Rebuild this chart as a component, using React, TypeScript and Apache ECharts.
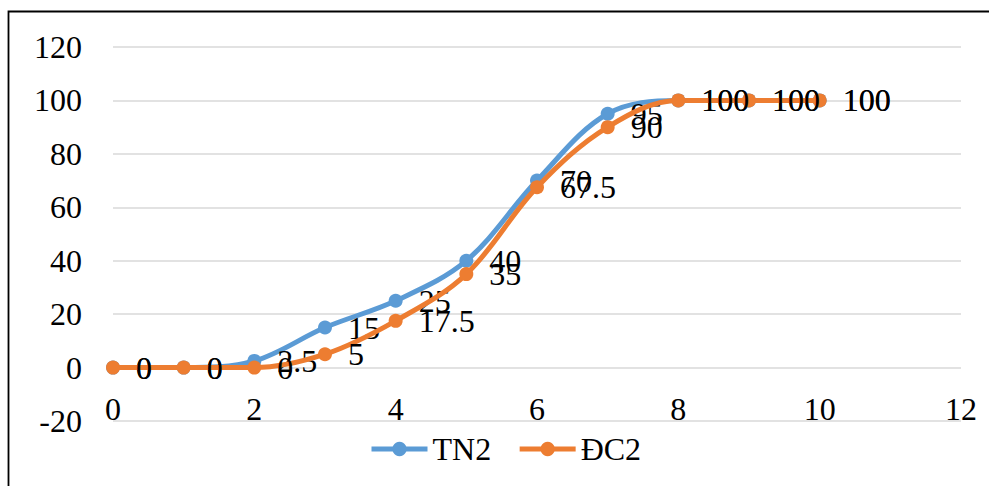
import React, { useEffect, useRef } from "react";
import * as echarts from "echarts";

// Day index on the horizontal axis
const days = [0, 1, 2, 3, 4, 5, 6, 7, 8, 9, 10];
// Cumulative percentage for each treatment
const tn2Values = [0, 0, 2.5, 15, 25, 40, 70, 95, 100, 100, 100];
const dc2Values = [0, 0, 0, 5, 17.5, 35, 67.5, 90, 100, 100, 100];

const seriesNames = ["TN2", "ĐC2"];
const seriesColors = ["#5B9BD5", "#ED7D31"];

const FONT = "Liberation Serif";

const GRID_TOP = 47;
const GRID_BOTTOM = 65;
const CHART_H = 486;
const Y_MIN = -20;
const Y_MAX = 120;

// shift the x axis up so it runs along y = 0
const plotH = CHART_H - GRID_TOP - GRID_BOTTOM;
const zeroShift = (plotH * (0 - Y_MIN)) / (Y_MAX - Y_MIN);

export default function App() {
  const ref = useRef<HTMLDivElement>(null);

  useEffect(() => {
    document.body.style.margin = "0";
    if (!ref.current) return;
    const chart = echarts.init(ref.current, undefined, { renderer: "svg" });

    const makeSeries = (name: string, values: number[], color: string, z: number) => ({
      name,
      type: "line",
      data: days.map((d, i) => [d, values[i]]),
      smooth: 0.35,
      symbol: "circle",
      symbolSize: 14,
      z,
      itemStyle: { color },
      lineStyle: { color, width: 5 },
      label: {
        show: true,
        position: "right",
        distance: 16,
        color: "#000",
        fontFamily: FONT,
        fontSize: 32,
        formatter: (p: any) => String(p.value[1]),
      },
    });

    chart.setOption({
      animation: false,
      backgroundColor: "#fff",
      textStyle: { fontFamily: FONT },
      grid: { left: 113, right: 28, top: GRID_TOP, bottom: GRID_BOTTOM, containLabel: false },
      legend: {
        bottom: 16,
        left: 364,
        itemWidth: 56,
        itemHeight: 18,
        itemGap: 26,
        data: seriesNames,
        lineStyle: { width: 5 },
        textStyle: { color: "#000", fontFamily: FONT, fontSize: 32 },
      },
      xAxis: {
        type: "value",
        min: 0,
        max: 12,
        interval: 2,
        position: "bottom",
        offset: -zeroShift,
        axisLine: { show: false, onZero: false },
        axisTick: { show: false },
        splitLine: { show: false },
        axisLabel: {
          color: "#000",
          fontFamily: FONT,
          fontSize: 32,
          margin: 25,
        },
      },
      yAxis: {
        type: "value",
        min: Y_MIN,
        max: Y_MAX,
        interval: 20,
        axisLine: { show: false },
        axisTick: { show: false },
        splitLine: { show: true, lineStyle: { color: "#d9d9d9", width: 1.5 } },
        axisLabel: {
          color: "#000",
          fontFamily: FONT,
          fontSize: 32,
          margin: 31,
        },
      },
      graphic: [
        {
          type: "rect",
          shape: { x: 8.5, y: 11.5, width: 1000, height: 500 },
          style: { fill: "none", stroke: "#000", lineWidth: 1.8 },
          silent: true,
        },
      ],
      series: [
        makeSeries(seriesNames[0], tn2Values, seriesColors[0], 2),
        makeSeries(seriesNames[1], dc2Values, seriesColors[1], 3),
      ],
    });

    return () => chart.dispose();
  }, []);

  return <div ref={ref} style={{ width: 989, height: 486 }} />;
}
